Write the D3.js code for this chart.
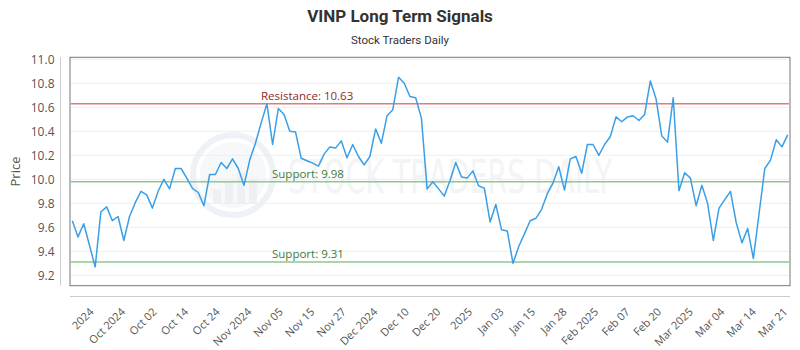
<!DOCTYPE html>
<html>
<head>
<meta charset="utf-8">
<script src="https://cdn.jsdelivr.net/npm/d3@7"></script>
<style>
  html, body { margin: 0; padding: 0; background: #fff; }
  svg { display: block; }
</style>
</head>
<body>
<svg id="chart" width="800" height="350"></svg>
<script>
// ---------------- DATA ----------------
const titleText = "VINP Long Term Signals";
const subtitleText = "Stock Traders Daily";
const yAxisTitle = "Price";

const prices = [
  9.655, 9.52, 9.63, 9.45, 9.27, 9.73, 9.77, 9.655, 9.69, 9.49,
  9.69, 9.805, 9.90, 9.87, 9.76, 9.90, 10.00, 9.92, 10.09, 10.09,
  10.01, 9.925, 9.89, 9.78, 10.04, 10.04, 10.14, 10.09, 10.17, 10.09,
  9.95, 10.16, 10.30, 10.47, 10.63, 10.29, 10.59, 10.54, 10.40, 10.395,
  10.175, 10.155, 10.135, 10.11, 10.21, 10.27, 10.26, 10.32, 10.18, 10.29,
  10.19, 10.12, 10.19, 10.42, 10.30, 10.53, 10.58, 10.85, 10.80, 10.69,
  10.68, 10.51, 9.92, 9.98, 9.92, 9.86, 9.99, 10.14, 10.02, 10.01,
  10.07, 9.945, 9.925, 9.645, 9.79, 9.58, 9.57, 9.30, 9.44, 9.545,
  9.655, 9.675, 9.75, 9.88, 9.97, 10.105, 9.91, 10.17, 10.19, 10.05,
  10.29, 10.29, 10.20, 10.29, 10.355, 10.52, 10.48, 10.52, 10.53, 10.49,
  10.54, 10.82, 10.67, 10.36, 10.31, 10.68, 9.905, 10.055, 10.01, 9.78,
  9.95, 9.80, 9.49, 9.76, 9.83, 9.90, 9.64, 9.47, 9.59, 9.34,
  9.715, 10.09, 10.16, 10.33, 10.27, 10.37
];

const xTickLabels = [
  "2024", "Oct 2024", "Oct 02", "Oct 14", "Oct 24", "Nov 2024", "Nov 05",
  "Nov 15", "Nov 27", "Dec 2024", "Dec 10", "Dec 20", "2025", "Jan 03",
  "Jan 15", "Jan 28", "Feb 2025", "Feb 07", "Feb 20", "Mar 2025", "Mar 04",
  "Mar 14", "Mar 21"
];

const yTickValues = [9.2, 9.4, 9.6, 9.8, 10.0, 10.2, 10.4, 10.6, 10.8, 11.0];

const levelValues = [10.63, 9.98, 9.31];
const levelLabels = ["Resistance: 10.63", "Support: 9.98", "Support: 9.31"];
const levelKinds  = ["resistance", "support", "support"];

const watermarkText = "STOCK TRADERS DAILY";

// ---------------- LAYOUT ----------------
const svg = d3.select("#chart");
const box = { left: 70, right: 790, top: 57.3, bottom: 285.7 };

const x = d3.scaleLinear()
  .domain([0, prices.length - 1])
  .range([72.3, 787.7]);

const y = d3.scaleLinear()
  .domain([9.2, 11.0])
  .range([275.3, 59.3]);

const colors = {
  line: "#3a9fe6",
  resistance: "#e07b7b",
  resistanceText: "#8b2b2b",
  support: "#8cc98c",
  supportText: "#3f7a3a",
  grid: "#eeeeee",
  axis: "#cccccc",
  frame: "#777777",
  text: "#555555",
  title: "#333333"
};

// ---------------- TITLE ----------------
svg.append("text")
  .attr("x", 400).attr("y", 22)
  .attr("text-anchor", "middle")
  .style("font-family", "Roboto, 'Open Sans', sans-serif")
  .style("font-weight", "bold")
  .style("font-size", "17px")
  .style("fill", colors.title)
  .text(titleText);

svg.append("text")
  .attr("x", 400).attr("y", 44)
  .attr("text-anchor", "middle")
  .style("font-family", "Roboto, 'Open Sans', sans-serif")
  .style("font-size", "11.5px")
  .style("fill", colors.title)
  .text(subtitleText);

// ---------------- WATERMARK ----------------
const wm = svg.append("g").attr("opacity", 0.5);
const wmc = { cx: 233, cy: 175, r: 40 };
wm.append("circle")
  .attr("cx", wmc.cx).attr("cy", wmc.cy).attr("r", wmc.r)
  .attr("fill", "none").attr("stroke", "#dfe5ec").attr("stroke-width", 6);
wm.append("circle")
  .attr("cx", wmc.cx).attr("cy", wmc.cy).attr("r", wmc.r - 7)
  .attr("fill", "#eef2f6");
[[-20, 14], [-8, 22], [4, 30], [16, 24]].forEach(([dx, h]) => {
  wm.append("rect")
    .attr("x", wmc.cx + dx).attr("y", wmc.cy + 28 - h)
    .attr("width", 8).attr("height", h)
    .attr("fill", "#dce3ea");
});
wm.append("text")
  .attr("x", 288).attr("y", 193)
  .attr("textLength", 324)
  .attr("lengthAdjust", "spacingAndGlyphs")
  .style("font-family", "'DejaVu Sans Condensed', 'DejaVu Sans', sans-serif")
  .style("font-size", "46px")
  .style("fill", "#e6eaef")
  .text(watermarkText);

// ---------------- GRID ----------------
svg.append("g")
  .selectAll("line")
  .data(yTickValues)
  .join("line")
  .attr("x1", box.left).attr("x2", box.right)
  .attr("y1", d => y(d)).attr("y2", d => y(d))
  .attr("stroke", colors.grid).attr("stroke-width", 1);

// ---------------- Y AXIS ----------------
const yAxis = d3.axisLeft(y)
  .tickValues(yTickValues)
  .tickFormat(d3.format(".1f"))
  .tickSize(0)
  .tickPadding(6);
const gy = svg.append("g").attr("transform", "translate(60.5,0)").call(yAxis);
gy.select(".domain").remove();
gy.append("line")
  .attr("x1", 0).attr("x2", 0)
  .attr("y1", box.top).attr("y2", box.bottom)
  .attr("stroke", colors.axis);
gy.selectAll(".tick text")
  .style("font-family", "'Open Sans', sans-serif")
  .style("font-size", "12px")
  .style("fill", colors.text);

svg.append("text")
  .attr("transform", `translate(20,${(box.top + box.bottom) / 2}) rotate(-90)`)
  .attr("text-anchor", "middle")
  .style("font-family", "'Open Sans', sans-serif")
  .style("font-size", "13px")
  .style("fill", colors.text)
  .text(yAxisTitle);

// ---------------- X AXIS ----------------
const nT = xTickLabels.length;
const tickStep = 5.51;
const tickIdx = xTickLabels.map((_, i) => (prices.length - 1) - (nT - 1 - i) * tickStep);

const xAxis = d3.axisBottom(x)
  .tickValues(tickIdx)
  .tickFormat((d, i) => xTickLabels[i])
  .tickSize(0)
  .tickPadding(0);
const gx = svg.append("g").attr("transform", "translate(0,296.5)").call(xAxis);
gx.select(".domain").remove();
gx.append("line")
  .attr("x1", box.left).attr("x2", box.right)
  .attr("y1", 0).attr("y2", 0)
  .attr("stroke", colors.axis);
gx.selectAll(".tick text")
  .attr("text-anchor", "end")
  .attr("dy", null)
  .attr("y", 0)
  .attr("transform", "translate(0,16) rotate(-45)")
  .style("font-family", "'Open Sans', sans-serif")
  .style("font-size", "11px")
  .style("fill", colors.text);

// ---------------- FRAME ----------------
svg.append("rect")
  .attr("x", box.left).attr("y", box.top)
  .attr("width", box.right - box.left).attr("height", box.bottom - box.top)
  .attr("fill", "none").attr("stroke", colors.frame).attr("stroke-width", 1);

// ---------------- LEVEL LINES ----------------
const lv = svg.append("g");
levelValues.forEach((v, i) => {
  const isRes = levelKinds[i] === "resistance";
  lv.append("line")
    .attr("x1", box.left + 1).attr("x2", box.right - 1)
    .attr("y1", y(v)).attr("y2", y(v))
    .attr("stroke", isRes ? colors.resistance : colors.support)
    .attr("stroke-width", 1.5);
  lv.append("text")
    .attr("x", isRes ? 261 : 272)
    .attr("y", y(v) - 4)
    .style("font-family", "'Open Sans', sans-serif")
    .style("font-size", "11.5px")
    .style("fill", isRes ? colors.resistanceText : colors.supportText)
    .text(levelLabels[i]);
});

// ---------------- PRICE LINE ----------------
const line = d3.line()
  .x((d, i) => x(i))
  .y(d => y(d));
svg.append("path")
  .datum(prices)
  .attr("d", line)
  .attr("fill", "none")
  .attr("stroke", colors.line)
  .attr("stroke-width", 1.5)
  .attr("stroke-linejoin", "round");
</script>
</body>
</html>
